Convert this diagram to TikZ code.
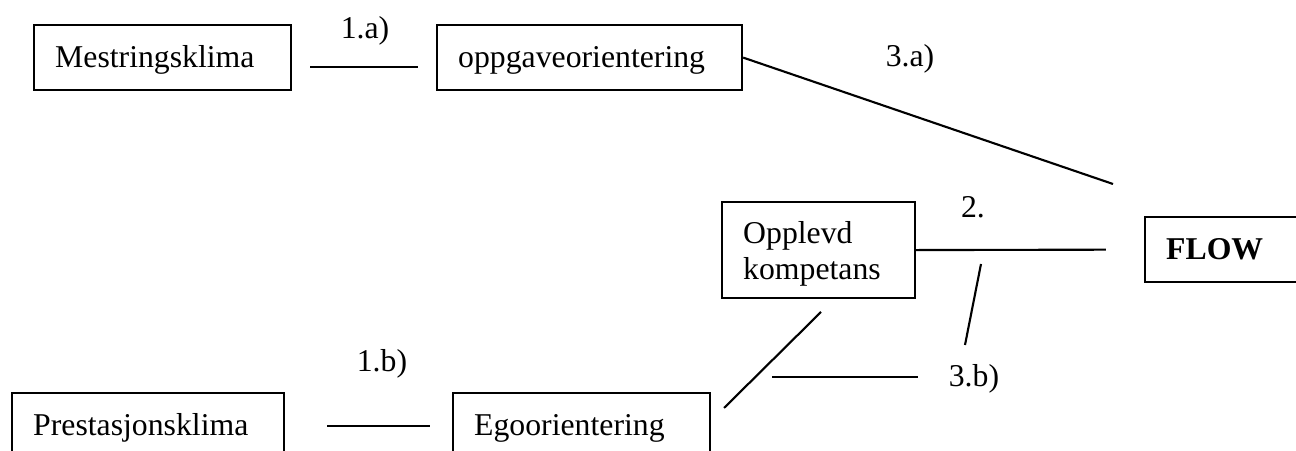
\documentclass[tikz,border=0pt]{standalone}
\usepackage{fontspec}
\setmainfont{Liberation Serif}
\tikzset{box/.style =
   {rectangle,
    draw,
    line width=0.8pt,
    anchor=north west,
    align=left,
    inner xsep=8pt,
    inner ysep=0pt,
    text height=9.8pt,
    text depth=2.6pt,
    minimum height=24.6pt}}
\tikzset{tag/.style =
   {anchor=base,
    inner sep=0pt}}
\tikzset{link/.style = {draw, line width=0.8pt}}

\begin{document}
\begin{tikzpicture}[x=0.378pt, y=-0.378pt,
                    font=\fontsize{12pt}{13.8pt}\selectfont]

    \path [use as bounding box, clip] (0,0) rectangle (1296,451);

    \node [box, text width=81.2pt] (mest) at (33,24) {Mestringsklima};

    \node [box, text width=99.3pt] (oppg) at (436,24) {oppgaveorientering};

    \node [box,
           text width=57pt,
           text height=11.1pt,
           text depth=16.4pt,
           minimum height=36.3pt] (opplevd) at (721,201) {Opplevd\\kompetans};

    \node [box,
           text width=48.3pt,
           font=\fontsize{12pt}{13.8pt}\selectfont\bfseries] (flow) at (1144,216) {FLOW};

    \node [box, text width=86.8pt] (pres) at (11,392) {Prestasjonsklima};

    \node [box, text width=81.2pt] (ego) at (452,392) {Egoorientering};

    \node [tag] (lab1a) at (365,39) {1.a)};
    \node [tag] (lab1b) at (382,372) {1.b)};
    \node [tag] (lab2) at (973,218) {2.};
    \node [tag] (lab3a) at (910,67) {3.a)};
    \node [tag] (lab3b) at (974,387) {3.b)};

    \coordinate (a3end) at (1113,184);
    \coordinate (egoup) at (724,408);
    \coordinate (oppdown) at (821,312);
    \coordinate (b3left) at (772,377);
    \coordinate (b3right) at (918,377);
    \coordinate (b3low) at (965,345);
    \coordinate (b3high) at (981,264);

    \draw [link, shorten <=6.8pt, shorten >=6.8pt] (mest.base east) -- (oppg.base west);
    \draw [link, shorten <=15.9pt, shorten >=8.3pt] (pres.east) -- (ego.west);
    \draw [link] (oppg.east) -- (a3end);
    \draw [link, shorten >=14.4pt] (opplevd.east) -- (flow.west);
    \draw [link] (egoup) -- (oppdown);
    \draw [link] (b3left) -- (b3right);
    \draw [link] (b3low) -- (b3high);

\end{tikzpicture}
\end{document}
